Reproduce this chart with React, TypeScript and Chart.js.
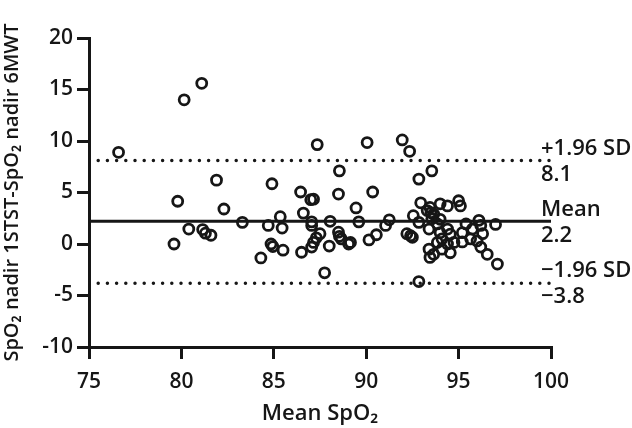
import { useEffect, useRef } from "react";
import { Chart, registerables } from "chart.js";

Chart.register(...registerables);

// Mean SpO2 (x) and difference 1STST - 6MWT nadir (y)
const meanSpO2 = [
  76.6, 80.15, 81.1, 81.9, 84.9, 86.45, 79.8, 82.3, 80.4, 81.15, 81.3, 81.6, 79.6, 83.3, 84.7, 85.35,
  85.45, 84.85, 84.95, 85.5, 84.3, 86.6, 86.5,
  87.35, 90.05, 91.95, 92.35, 88.55, 92.85, 93.55, 87.0, 87.15, 88.5, 90.35, 89.45, 87.05, 87.05,
  88.05, 89.6, 91.25, 91.05, 92.55, 87.5, 87.3, 87.15, 87.05, 88.5, 88.55, 88.65, 89.15, 89.05, 88.0,
  90.15, 90.55, 87.75, 92.85,
  92.95, 93.45, 93.3, 93.65, 93.5, 94.0, 94.4, 95.0, 95.1, 92.85, 92.2, 92.4, 92.5, 93.4, 93.85, 93.55,
  94.0, 94.0, 94.4, 94.55, 94.1, 93.85, 94.4, 94.75, 93.4, 93.65, 93.45, 94.1, 94.55, 95.2, 95.2, 95.4,
  95.75, 95.65, 96.1, 96.2, 96.3, 96.0, 96.2, 96.55, 97.0, 97.1,
];
const diffSpO2 = [
  8.9, 14.0, 15.6, 6.2, 5.85, 5.05, 4.15, 3.4, 1.45, 1.4, 1.05, 0.85, 0.0, 2.1, 1.8, 2.65,
  1.55, 0.0, -0.25, -0.6, -1.35, 3.0, -0.8,
  9.65, 9.85, 10.1, 9.0, 7.1, 6.3, 7.1, 4.3, 4.35, 4.85, 5.05, 3.5, 2.15, 1.8,
  2.2, 2.15, 2.35, 1.8, 2.75, 1.0, 0.6, 0.15, -0.3, 1.15, 0.75, 0.5, 0.15, 0.0, -0.2,
  0.4, 0.9, -2.8, -3.65,
  4.0, 3.55, 3.25, 2.9, 3.05, 3.9, 3.7, 4.2, 3.7, 2.1, 1.0, 0.8, 0.65, 1.45, 1.95, 2.45,
  2.4, 1.1, 1.45, 0.95, 0.5, 0.15, 0.0, 0.15, -0.5, -1.0, -1.3, -0.5, -0.85, 1.1, 0.2, 1.95,
  1.45, 0.5, 2.3, 1.8, 1.0, 0.3, -0.3, -1.0, 1.9, -1.95,
];

const meanDiff = 2.2;
const upperLoA = 8.1;
const lowerLoA = -3.8;

const lineValues = [upperLoA, meanDiff, lowerLoA];
const lineNames = ["+1.96 SD", "Mean", "\u22121.96 SD"];
const lineValueTexts = ["8.1", "2.2", "\u22123.8"];

const xMin = 75;
const xMax = 100;
const yMin = -10;
const yMax = 20;
const tickStep = 5;

const xTitle = "Mean SpO\u2082";
const yTitle = "SpO\u2082 nadir 1STST-SpO\u2082 nadir 6MWT";

const FONT = '"Open Sans", "DejaVu Sans", sans-serif';
const INK = "#161616";

const lineLabelPlugin = {
  id: "lineLabels",
  afterDatasetsDraw(chart: any) {
    const { ctx, chartArea, scales } = chart;
    ctx.save();
    ctx.fillStyle = INK;
    ctx.font = `600 22px ${FONT}`;
    ctx.textAlign = "left";
    ctx.textBaseline = "middle";
    const x = chartArea.right - 10;
    lineValues.forEach((v, i) => {
      const y = scales.y.getPixelForValue(v);
      ctx.fillText(lineNames[i], x, y - 12);
      ctx.fillText(lineValueTexts[i], x, y + 14);
    });
    ctx.restore();
  },
};

export default function App() {
  const canvasRef = useRef<HTMLCanvasElement | null>(null);

  useEffect(() => {
    const canvas = canvasRef.current;
    if (!canvas) return;
    const points = meanSpO2.map((x, i) => ({ x, y: diffSpO2[i] }));
    const hLine = (v: number) => [
      { x: xMin, y: v },
      { x: xMax, y: v },
    ];
    const chart = new Chart(canvas, {
      type: "scatter",
      data: {
        datasets: [
          {
            label: "Mean",
            data: hLine(meanDiff),
            showLine: true,
            borderColor: INK,
            borderWidth: 3,
            pointRadius: 0,
            order: 2,
          } as any,
          {
            label: "+1.96 SD",
            data: hLine(upperLoA),
            showLine: true,
            borderColor: INK,
            borderWidth: 3.5,
            borderDash: [0, 9.2],
            borderCapStyle: "round",
            pointRadius: 0,
            order: 2,
          } as any,
          {
            label: "-1.96 SD",
            data: hLine(lowerLoA),
            showLine: true,
            borderColor: INK,
            borderWidth: 3.5,
            borderDash: [0, 9.2],
            borderCapStyle: "round",
            pointRadius: 0,
            order: 2,
          } as any,
          {
            label: "Differences",
            data: points,
            pointRadius: 5,
            pointBorderWidth: 2.8,
            pointBorderColor: INK,
            pointBackgroundColor: "rgba(255,255,255,0)",
            order: 1,
          },
        ],
      },
      options: {
        animation: false,
        responsive: false,
        devicePixelRatio: 1,
        layout: { padding: { top: 38, right: 81, left: 0, bottom: 0 } },
        plugins: { legend: { display: false }, tooltip: { enabled: false } },
        scales: {
          x: {
            type: "linear",
            min: xMin,
            max: xMax,
            afterFit: (s: any) => {
              s.height = 81;
            },
            ticks: {
              stepSize: tickStep,
              color: INK,
              padding: 10,
              font: { family: FONT, size: 21, weight: "600" },
            },
            grid: {
              drawOnChartArea: false,
              drawTicks: true,
              tickLength: 12,
              lineWidth: 3,
              color: INK,
            },
            border: { display: true, width: 3, color: INK },
            title: {
              display: true,
              text: xTitle,
              color: INK,
              padding: { top: 0, bottom: 1 },
              font: { family: FONT, size: 22, weight: "600" },
            },
          },
          y: {
            type: "linear",
            min: yMin,
            max: yMax,
            afterFit: (s: any) => {
              s.width = 89;
            },
            ticks: {
              stepSize: tickStep,
              color: INK,
              padding: 4,
              font: { family: FONT, size: 21, weight: "600" },
            },
            grid: {
              drawOnChartArea: false,
              drawTicks: true,
              tickLength: 12,
              lineWidth: 3,
              color: INK,
            },
            border: { display: true, width: 3, color: INK },
            title: {
              display: true,
              text: yTitle,
              color: INK,
              padding: { top: 0, bottom: 0 },
              font: { family: FONT, size: 20, weight: "600" },
            },
          },
        },
      } as any,
      plugins: [lineLabelPlugin],
    });
    return () => chart.destroy();
  }, []);

  return (
    <div style={{ position: "fixed", left: 0, top: 0, width: 632, height: 428, background: "#fff" }}>
      <canvas ref={canvasRef} width={632} height={428} style={{ display: "block" }} />
    </div>
  );
}
